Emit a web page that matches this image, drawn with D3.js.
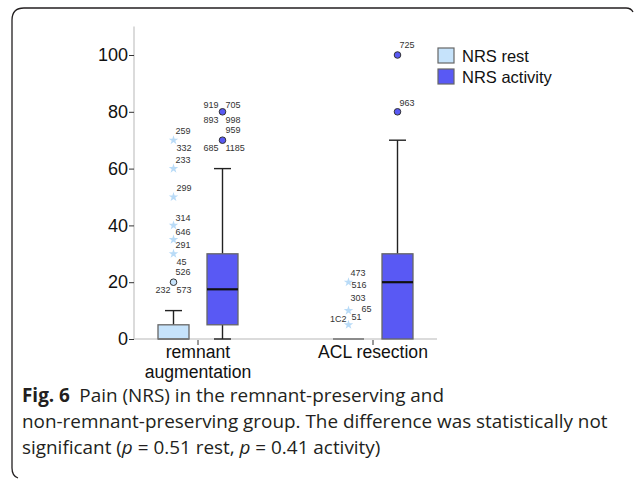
<!DOCTYPE html>
<html>
<head>
<meta charset="utf-8">
<script src="https://cdn.jsdelivr.net/npm/d3@7"></script>
<style>
  body { margin: 0; background: #fff; }
  svg { display: block; }
  .axis text { font-family: "Liberation Sans", Arial, sans-serif; }
  .caption { font-family: "Open Sans", sans-serif; fill: #231f20; }
</style>
</head>
<body>
<svg width="634" height="480"></svg>
<script>
// datos
const groups = ["remnant augmentation", "ACL resection"];
const series = ["NRS rest", "NRS activity"];
const yTicks = [0, 20, 40, 60, 80, 100];

// cuartiles por grupo (mismo orden que groups)
const restQ1 = [0, 0];
const restMedian = [0, 0];
const restQ3 = [5, 0];
const restLow = [0, 0];
const restHigh = [10, 0];

const actQ1 = [5, 0];
const actMedian = [17.5, 20];
const actQ3 = [30, 30];
const actLow = [0, 0];
const actHigh = [60, 70];

// outliers: o = circulo, * = extremo (estrella)
const restOutliers = [
  { g: 0, v: 70, k: "*", ids: ["259", "332"] },
  { g: 0, v: 60, k: "*", ids: ["233"] },
  { g: 0, v: 50, k: "*", ids: ["299"] },
  { g: 0, v: 40, k: "*", ids: ["314", "646"] },
  { g: 0, v: 35, k: "*", ids: ["291"] },
  { g: 0, v: 30, k: "*", ids: ["45"] },
  { g: 0, v: 20, k: "o", ids: ["526", "232", "573"] },
  { g: 1, v: 20, k: "*", ids: ["473", "516"] },
  { g: 1, v: 10, k: "*", ids: ["303", "65"] },
  { g: 1, v: 5, k: "*", ids: ["1C2", "51"] }
];
const actOutliers = [
  { g: 0, v: 80, k: "o", ids: ["919", "705", "893", "998"] },
  { g: 0, v: 70, k: "o", ids: ["959", "685", "1185"] },
  { g: 1, v: 100, k: "o", ids: ["725"] },
  { g: 1, v: 80, k: "o", ids: ["963"] }
];

// donde va cada etiqueta respecto al punto [dx, dy, anchor]
const labelNudge = {
  "259": [2, -9, "start"], "332": [3, 8, "start"], "233": [2, -9, "start"],
  "299": [3, -9, "start"], "314": [2, -8, "start"], "646": [2, 6, "start"],
  "291": [2, 5, "start"], "45": [3, 8, "start"], "526": [2, -10, "start"],
  "232": [-3, 8, "end"], "573": [3, 8, "start"],
  "473": [2, -9, "start"], "516": [3, 3, "start"], "303": [2, -13, "start"],
  "65": [13, -2, "start"], "1C2": [-2, -6, "end"], "51": [3, -8, "start"],
  "919": [-4, -7, "end"], "705": [3, -7, "start"], "893": [-4, 8, "end"],
  "998": [3, 8, "start"], "959": [3, -10, "start"], "685": [-4, 8, "end"],
  "1185": [3, 8, "start"], "725": [2, -10, "start"], "963": [2, -9, "start"]
};

const colors = { rest: "#c6e3fb", act: "#5959f4", star: "#b9dbf7" };

const svg = d3.select("svg");

// marco redondeado abierto abajo/derecha
svg.append("path")
  .attr("d", "M18,478 Q12,476 12,468 L12,20 Q12,8 24,8 L626,8 Q631,8 633,12")
  .attr("fill", "none").attr("stroke", "#231f20").attr("stroke-width", 1.3);

const y = d3.scaleLinear().domain([0, 100]).range([339, 55]);
const x = d3.scalePoint().domain(groups).range([135, 436]).padding(0.36);
const off = d3.scalePoint().domain(series).range([-24.5, 24.5]);
const boxW = 31, capW = 17;

// eje y
svg.append("line").attr("x1", 134).attr("x2", 134).attr("y1", y(110)).attr("y2", y(0))
  .attr("stroke", "#cfcfcf").attr("stroke-width", 1.5);
const yAxis = svg.append("g").attr("class", "axis").attr("transform", "translate(134,0)")
  .call(d3.axisLeft(y).tickValues(yTicks).tickSize(5).tickPadding(1));
yAxis.select(".domain").remove();
yAxis.selectAll(".tick line").attr("stroke", "#333");
yAxis.selectAll("text").attr("font-size", 18).attr("fill", "#111");

// eje x
svg.append("line").attr("x1", 134).attr("x2", 437).attr("y1", y(0)).attr("y2", y(0))
  .attr("stroke", "#cfcfcf").attr("stroke-width", 1.5);
const xg = svg.append("g").attr("class", "axis");
groups.forEach(g => {
  xg.append("line").attr("x1", x(g)).attr("x2", x(g)).attr("y1", y(0) + 1).attr("y2", y(0) + 6)
    .attr("stroke", "#333");
  const words = g === "remnant augmentation" ? ["remnant", "augmentation"] : [g];
  words.forEach((w, i) => {
    xg.append("text").attr("x", x(g)).attr("y", 358 + i * 20).attr("text-anchor", "middle")
      .attr("font-size", 17.6).attr("fill", "#111").text(w);
  });
});

function drawBoxes(name, q1, med, q3, lo, hi, fill) {
  groups.forEach((g, i) => {
    const cx = x(g) + off(name);
    const gg = svg.append("g");
    gg.append("line").attr("x1", cx).attr("x2", cx).attr("y1", y(hi[i])).attr("y2", y(q3[i]))
      .attr("stroke", "#222").attr("stroke-width", 1.4);
    gg.append("line").attr("x1", cx).attr("x2", cx).attr("y1", y(q1[i])).attr("y2", y(lo[i]))
      .attr("stroke", "#222").attr("stroke-width", 1.4);
    [hi[i], lo[i]].forEach(v => {
      if (v === 0 && q1[i] === 0) return;
      gg.append("line").attr("x1", cx - capW / 2).attr("x2", cx + capW / 2)
        .attr("y1", y(v)).attr("y2", y(v)).attr("stroke", "#222").attr("stroke-width", 1.4);
    });
    gg.append("rect").attr("x", cx - boxW / 2).attr("width", boxW)
      .attr("y", y(q3[i])).attr("height", y(q1[i]) - y(q3[i]))
      .attr("fill", fill).attr("stroke", "#666").attr("stroke-width", 1.3);
    // mediana sobre el borde inferior queda tapada en el original
    gg.append("line").attr("x1", cx - boxW / 2).attr("x2", cx + boxW / 2)
      .attr("y1", y(med[i])).attr("y2", y(med[i]))
      .attr("stroke", med[i] === q1[i] ? "#777" : "#111")
      .attr("stroke-width", med[i] === q1[i] ? 1.6 : 2.2);
  });
}
drawBoxes("NRS rest", restQ1, restMedian, restQ3, restLow, restHigh, colors.rest);
drawBoxes("NRS activity", actQ1, actMedian, actQ3, actLow, actHigh, colors.act);

const star = d3.symbol().type(d3.symbolStar).size(28);
function drawOutliers(list, name, fill) {
  list.forEach(o => {
    const cx = x(groups[o.g]) + off(name), cy = y(o.v);
    if (o.k === "o") {
      svg.append("circle").attr("cx", cx).attr("cy", cy).attr("r", 3.3)
        .attr("fill", fill).attr("stroke", "#333").attr("stroke-width", 1);
    } else {
      svg.append("path").attr("d", star).attr("transform", `translate(${cx},${cy})`)
        .attr("fill", colors.star);
    }
    o.ids.forEach(id => {
      const n = labelNudge[id];
      svg.append("text").attr("x", cx + n[0]).attr("y", cy + n[1]).attr("dy", "0.35em")
        .attr("text-anchor", n[2]).attr("font-family", "Liberation Sans, Arial, sans-serif")
        .attr("font-size", 9).attr("fill", "#333").text(id);
    });
  });
}
drawOutliers(restOutliers, "NRS rest", colors.rest);
drawOutliers(actOutliers, "NRS activity", colors.act);

// leyenda
const leg = svg.append("g").attr("transform", "translate(438,48)");
series.forEach((s, i) => {
  leg.append("rect").attr("x", 0).attr("y", i * 21).attr("width", 16).attr("height", 15)
    .attr("fill", i ? colors.act : colors.rest).attr("stroke", "#666").attr("stroke-width", 1.2);
  leg.append("text").attr("x", 24).attr("y", i * 21 + 14).attr("font-size", 16.5)
    .attr("font-family", "Liberation Sans, Arial, sans-serif").attr("fill", "#111").text(s);
});

// pie de figura
const cap = svg.append("text").attr("class", "caption").attr("font-size", 18.9);
const l1 = cap.append("tspan").attr("x", 22).attr("y", 402);
l1.append("tspan").attr("font-weight", "bold").text("Fig. 6");
l1.append("tspan").text("\u2002Pain (NRS) in the remnant-preserving and");
cap.append("tspan").attr("x", 22).attr("y", 428)
  .text("non-remnant-preserving group. The difference was statistically not");
const l3 = cap.append("tspan").attr("x", 22).attr("y", 454);
l3.append("tspan").text("significant (");
l3.append("tspan").attr("font-style", "italic").text("p");
l3.append("tspan").text(" = 0.51 rest, ");
l3.append("tspan").attr("font-style", "italic").text("p");
l3.append("tspan").text(" = 0.41 activity)");
</script>
</body>
</html>
